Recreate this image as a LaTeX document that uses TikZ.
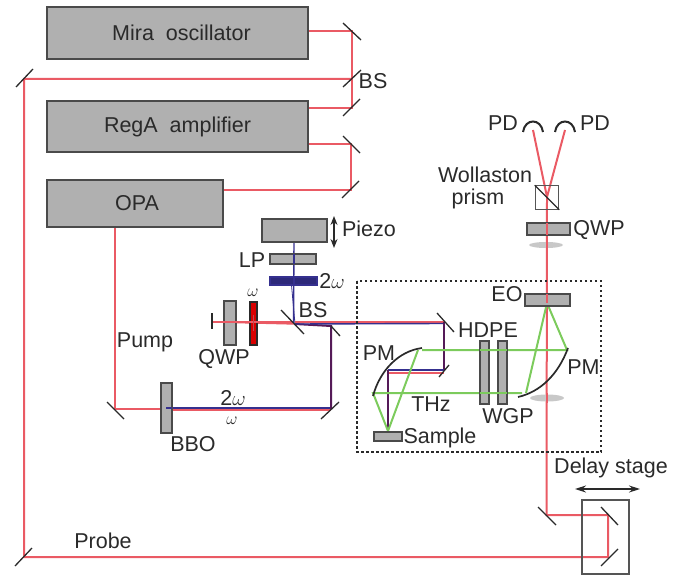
\documentclass[tikz,border=0pt]{standalone}
\usepackage{fontspec}
\setmainfont{Liberation Sans}
\usetikzlibrary{arrows.meta}
\definecolor{ink}{HTML}{2A2A2A}
\definecolor{plate}{HTML}{B0B0B0}
\definecolor{beamred}{HTML}{EA5A64}
\definecolor{beamgreen}{HTML}{7CCB5C}
\definecolor{beamblue}{HTML}{35308F}
\definecolor{beamdark}{HTML}{551A58}
\tikzset{
  boxnode/.style={draw=ink!85,fill=plate,line width=1.1pt,inner sep=0pt,text=ink},
  label/.style={font=\fontsize{21.5}{23}\selectfont,text=ink,inner sep=0pt},
  smalllabel/.style={font=\fontsize{17}{18}\selectfont,text=ink,inner sep=0pt},
  mirror/.style={draw=ink,line width=1.3pt},
  red beam/.style={draw=beamred,line width=2pt},
  green beam/.style={draw=beamgreen,line width=2pt},
  blue beam/.style={draw=beamblue,line width=1.4pt},
  dark beam/.style={draw=beamdark,line width=2pt},
  lens shadow/.style={fill=plate!70,draw=none},
}
\begin{document}
\begin{tikzpicture}[x=1pt,y=-1pt]
\useasboundingbox (0,0) rectangle (682,577);
% beam points
\coordinate (m1) at (352,31);
\coordinate (bs1) at (352,79);
\coordinate (m2) at (352,108);
\coordinate (tl) at (24,79);
\coordinate (bl) at (24,557);
\coordinate (m3) at (351,144);
\coordinate (m4) at (351,190);
\coordinate (pm1) at (115,409);
\coordinate (bboc) at (166,409);
\coordinate (pm2) at (331,409);
\coordinate (pm3) at (331,326);
\coordinate (bs2) at (295,324);
\coordinate (tick) at (212,322);
\coordinate (pz) at (294,242);
\coordinate (hd) at (444,322);
\coordinate (hd2) at (444,371);
\coordinate (foc) at (388,371);
\coordinate (smp) at (388,431);
\coordinate (gA) at (422,350);
\coordinate (gB) at (418,350);
\coordinate (gC) at (373,393);
\coordinate (gD) at (522,393);
\coordinate (gE) at (567,350);
\coordinate (gG) at (526,393);
\coordinate (eo) at (547,303);
\coordinate (pdl) at (533,130);
\coordinate (pdr) at (565,130);
\coordinate (wol) at (547,197);
\coordinate (ds1) at (546.5,515);
\coordinate (ds2) at (608,515);
\coordinate (ds3) at (608,557);
% upper beams
\draw[red beam] (308,31) -- (m1) -- (m2) -- (308,108);
\draw[red beam] (bs1) -- (tl) -- (bl) -- (ds3) -- (ds2) -- (ds1) -- (wol);
\draw[red beam] (308,144) -- (m3) -- (m4) -- (223,190);
\draw[red beam] (115,227) -- (pm1) -- (bboc);
\draw[red beam] (wol) -- (pdl);
\draw[red beam] (wol) -- (pdr);
% pump and probe paths inside
\draw[red beam,line width=1.4pt] (tick) -- (bs2);
\draw[blue beam] (pz) -- (293.5,323);
\draw[blue beam,line width=.8pt] (291.5,285) -- (bs2);
\draw[red beam] (166,410) -- (331,410);
\draw[blue beam] (166,408) -- (331,408);
\draw[dark beam] (pm2) -- (pm3) -- (bs2);
\draw[red beam] (295,321.5) -- (444,321.5);
\draw[blue beam] (bs2) -- (444,323.5);
\draw[dark beam] (hd) -- (hd2);
\draw[red beam] (444,372.5) -- (388,372.5);
\draw[blue beam] (444,370) -- (388,370);
\draw[dark beam] (388,370) -- (smp);
% green THz
\draw[green beam] (gA) -- (gE) -- (eo) -- (gG);
\draw[green beam] (gB) -- (smp) -- (gC) -- (gD);
% plates
\node[boxnode,minimum width=261pt,minimum height=52pt,label] (mira) at (177.5,33) {\hspace*{8pt}Mira\ \ oscillator};
\node[boxnode,minimum width=261pt,minimum height=51pt,label] (rega) at (177.5,126.5) {RegA\ \ amplifier};
\node[boxnode,minimum width=176pt,minimum height=47pt,label] (opa) at (135,203.5) {\hspace*{4pt}OPA};
\node[boxnode,minimum width=65pt,minimum height=23pt] (piezo) at (294.5,230.5) {};
\node[boxnode,minimum width=46pt,minimum height=10pt] (lp) at (293,259) {};
\node[boxnode,draw=beamblue,fill=beamblue!85!black,minimum width=47pt,minimum height=8pt] (plate2w) at (293.5,281) {};
\node[boxnode,minimum width=12pt,minimum height=44pt] (qwpa) at (230,323) {};
\node[boxnode,draw=ink,fill=red!85!black,minimum width=7pt,minimum height=43pt] (platew) at (253.5,323.5) {};
\node[boxnode,minimum width=11pt,minimum height=50pt] (bbo) at (166.5,408) {};
\node[boxnode,minimum width=28pt,minimum height=9pt] (sample) at (388,436.5) {};
\node[boxnode,minimum width=9pt,minimum height=63pt] (hdpe) at (484.5,372.5) {};
\node[boxnode,minimum width=9pt,minimum height=63pt] (wgp) at (502.5,372.5) {};
\node[boxnode,minimum width=45pt,minimum height=12pt] (eop) at (547.5,300) {};
\node[boxnode,minimum width=43pt,minimum height=12pt] (qwpb) at (548.5,229) {};
\draw[blue beam] (294,254) -- (294,264);
\draw[red beam] (tick) -- (293,322);
\draw[red beam] (547,223) -- (547,235);
\draw[red beam] (547,294) -- (547,303);
\draw[red beam] (bs1) -- (tl);
\draw[red beam] (wol) -- (547,209);
\draw[blue beam] (294,277) -- (294,285);
\draw[beamred!80!black,line width=1.6pt] (253.5,315) -- (253.5,331);
\draw[green beam] (480,350) -- (507,350);
\draw[green beam] (480,393) -- (507,393);
\draw[blue beam] (166,408) -- (172,408);
% lens shadows
\fill[lens shadow] (546,245) ellipse (17pt and 3pt);
\fill[lens shadow] (547,398) ellipse (17pt and 3.5pt);
\draw[red beam] (547,240) -- (547,250);
\draw[red beam] (547,393) -- (547,403);
% mirrors
\draw[mirror] (343,23) -- (361,40);
\draw[mirror] (343,87) -- (361,70);
\draw[mirror] (343,116) -- (360,99);
\draw[mirror] (343,136) -- (360,153);
\draw[mirror] (342,198) -- (359,181);
\draw[mirror] (16,87) -- (33,69);
\draw[mirror] (107,402) -- (124,419);
\draw[mirror] (321,419) -- (339,402);
\draw[mirror] (331,326) -- (340,336);
\draw[mirror] (281,310) -- (304,334);
\draw[mirror] (212,313) -- (212,329);
\draw[mirror] (437,313) -- (454,332);
\draw[mirror] (449,365) -- (439,377);
\draw[mirror] (538,507) -- (556,525);
\draw[mirror] (601,507) -- (618,525);
\draw[mirror] (601,566) -- (618,549);
\draw[mirror] (15,566) -- (32,548);
% parabolic mirrors
\draw[mirror,line width=1.7pt] (422,348) .. controls (399,351) and (380,370) .. (373,396);
\draw[mirror,line width=1.7pt] (568,348) .. controls (558,375) and (540,392) .. (518,397);
% detectors
\draw[mirror,line width=2pt] (523,132) .. controls (525,118) and (541,118) .. (543,132);
\draw[mirror,line width=2pt] (555,132) .. controls (557,118) and (573,118) .. (575,132);
\node[draw=ink!80,line width=1.1pt,minimum size=23.5pt,inner sep=0pt] (wollaston) at (547,197.5) {};
\draw[ink,line width=1.1pt] (wollaston.north west) -- (wollaston.south east);
% frames
\draw[ink,line width=1.3pt,dash pattern=on 2.5pt off 2.5pt] (357,281) rectangle (601,452);
\draw[ink!80,line width=1.2pt] (582,500) rectangle (629,574);
\draw[ink,line width=1.3pt,{Stealth[length=9pt,width=7pt]}-{Stealth[length=9pt,width=7pt]}] (334,216) -- (334,248);
\draw[ink,line width=1.3pt,{Stealth[length=11pt,width=7pt]}-{Stealth[length=11pt,width=7pt]}] (575,489) -- (640,489);
% labels
\node[label] (t1) at (373,81) {BS};
\node[label] (t2) at (369,229) {Piezo};
\node[label] (t3) at (252,260) {LP};
\node[label] (t4) at (332,281) {2$\omega$};
\node[label] (t5) at (313,310) {BS};
\node[smalllabel] (t6) at (253,293) {$\omega$};
\node[label] (t7) at (145,342) {Pump};
\node[label] (t8) at (224,359) {QWP};
\node[label] (t9) at (193,444) {BBO};
\node[label] (t10) at (233,398) {2$\omega$};
\node[smalllabel] (t11) at (232,421) {$\omega$};
\node[label] (t12) at (103,541) {Probe};
\node[label] (t13) at (379,353) {PM};
\node[label] (t14) at (488,330) {HDPE};
\node[label] (t15) at (431,404) {THz};
\node[label] (t16) at (508,416) {WGP};
\node[label] (t17) at (440,438) {Sample};
\node[label] (t18) at (583.5,367) {PM};
\node[label] (t19) at (507,294) {EO};
\node[label] (t20) at (599,230) {QWP};
\node[label] (t21) at (485,175) {Wollaston};
\node[label] (t22) at (478,199) {prism};
\node[label] (t23) at (503,123) {PD};
\node[label] (t24) at (595,123) {PD};
\node[label] (t25) at (611,468) {Delay stage};
\end{tikzpicture}
\end{document}
